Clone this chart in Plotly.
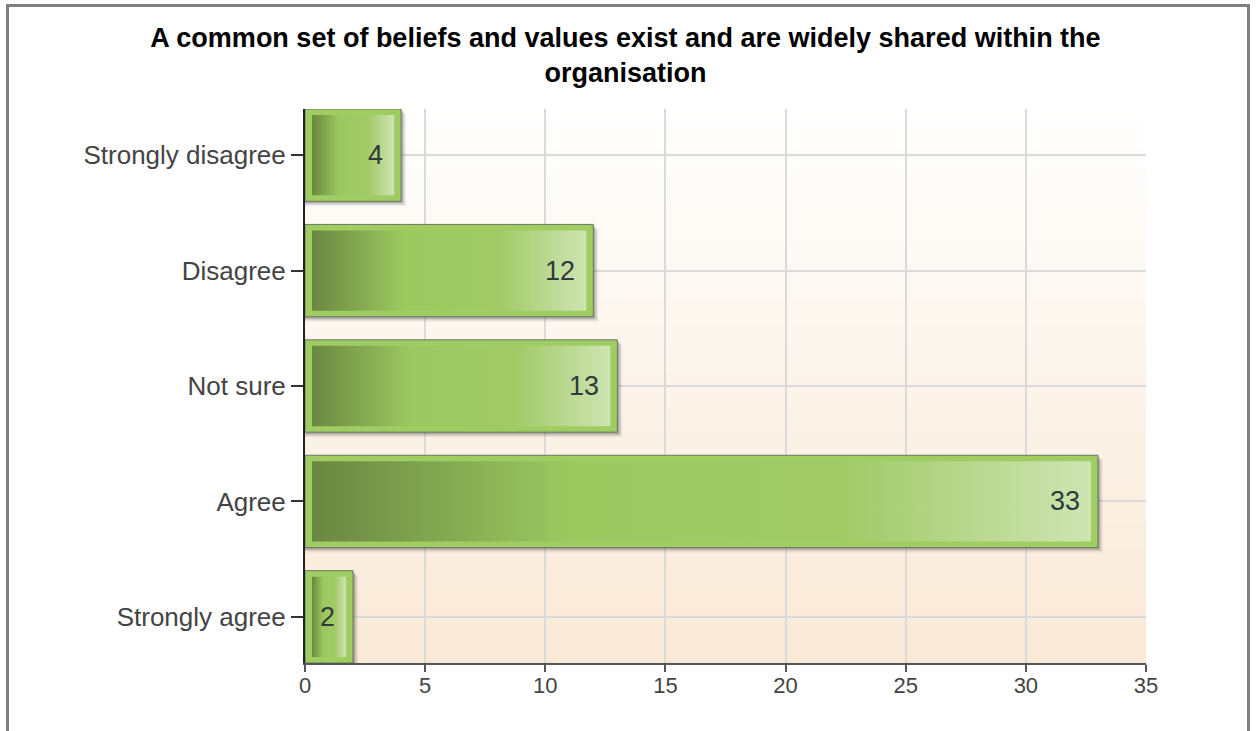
import base64
import struct
import zlib

import plotly.graph_objects as go

# ---------------- data ----------------
categories = ["Strongly disagree", "Disagree", "Not sure", "Agree", "Strongly agree"]
counts = [4, 12, 13, 33, 2]
x_ticks = [0, 5, 10, 15, 20, 25, 30, 35]
title_text = ("A common set of beliefs and values exist and are widely shared within the"
              "<br>organisation")

# ---------------- geometry / style ----------------
W, H = 1256, 731
ML, MR, MT, MB = 305, 110, 109, 68
PW, PH = W - ML - MR, H - MT - MB
XMAX = 35
Y_RANGE = [len(categories) - 0.6, -0.4]       # reversed: first category on top
PX_X = PW / XMAX                                 # pixels per x unit
PX_Y = PH / abs(Y_RANGE[0] - Y_RANGE[1])        # pixels per y unit
BAR_W = 0.8
FONT = "Liberation Sans, Arial, sans-serif"

ypos = list(range(len(categories)))


def gradient_png(top, bottom, h=128):
    rows = b""
    for i in range(h):
        t = i / (h - 1)
        px = bytes(round(a + (b - a) * t) for a, b in zip(top, bottom))
        rows += b"\x00" + px * 2
    def chunk(typ, data):
        return (struct.pack(">I", len(data)) + typ + data
                + struct.pack(">I", zlib.crc32(typ + data) & 0xFFFFFFFF))
    png = (b"\x89PNG\r\n\x1a\n"
           + chunk(b"IHDR", struct.pack(">IIBBBBB", 2, h, 8, 2, 0, 0, 0))
           + chunk(b"IDAT", zlib.compress(rows))
           + chunk(b"IEND", b""))
    return "data:image/png;base64," + base64.b64encode(png).decode()


fig = go.Figure()

# soft drop shadow (offset right/down)
for off_px, alpha in [(5, 0.07), (3.5, 0.12), (2, 0.22)]:
    fig.add_trace(go.Bar(
        orientation="h", y=ypos, x=[c + off_px / PX_X for c in counts], base=0,
        width=BAR_W, offset=-BAR_W / 2 + off_px / PX_Y,
        marker=dict(color=f"rgba(40,40,40,{alpha})", line=dict(width=0)),
        hoverinfo="skip", showlegend=False))

# outer (light green) bar frame
fig.add_trace(go.Bar(
    orientation="h", y=ypos, x=counts, width=BAR_W, offset=-BAR_W / 2,
    marker=dict(color="#9fcd61", line=dict(color="#6b7561", width=1)),
    showlegend=False, hovertemplate="%{x}<extra></extra>"))

# inner gradient panel of each bar
inset_x = 7 / PX_X
inset_y = 6 / PX_Y
grad = [[0.0, "#6a8741"], [0.33, "#9cc860"], [0.68, "#a1ca67"], [1.0, "#cee4b2"]]
for yi, c in zip(ypos, counts):
    x0, x1 = inset_x, c - inset_x
    y0, y1 = yi - BAR_W / 2 + inset_y, yi + BAR_W / 2 - inset_y
    fig.add_trace(go.Scatter(
        x=[x0, x1, x1, x0, x0], y=[y0, y0, y1, y1, y0], mode="lines",
        line=dict(width=0), fill="toself",
        fillgradient=dict(type="horizontal", colorscale=grad),
        hoverinfo="skip", showlegend=False))

# value labels
for yi, c in zip(ypos, counts):
    fig.add_annotation(x=c, y=yi, xref="x", yref="y", text=str(c), showarrow=False,
                       xanchor="right", yanchor="middle", xshift=-16,
                       font=dict(family=FONT, size=27, color="#2f3a3a"))

# background gradient of plot area
fig.add_layout_image(dict(
    source=gradient_png((255, 255, 255), (249, 233, 214)),
    xref="x domain", yref="y domain", x=0, y=1, sizex=1, sizey=1,
    xanchor="left", yanchor="top", sizing="stretch", layer="below"))

# outer grey frame
fig.add_shape(type="rect", xref="paper", yref="paper",
              x0=(7.5 - ML) / PW, x1=(1248.5 - ML) / PW,
              y0=(MT + PH - 745) / PH, y1=(MT + PH - 5.5) / PH,
              line=dict(color="#808080", width=3), fillcolor="rgba(0,0,0,0)")

fig.update_layout(
    width=W, height=H,
    margin=dict(l=ML, r=MR, t=MT, b=MB, pad=0),
    paper_bgcolor="white", plot_bgcolor="rgba(0,0,0,0)",
    barmode="overlay",
    title=dict(text=title_text, x=625.5 / W, xanchor="center", xref="container",
               y=1 - 47 / H, yanchor="top", yref="container",
               font=dict(family=FONT, size=27, color="#000000", weight="bold")),
    font=dict(family=FONT),
    showlegend=False,
)
fig.update_xaxes(
    range=[0, XMAX], tickvals=x_ticks, ticktext=[str(t) for t in x_ticks],
    showgrid=True, gridcolor="#dadada", gridwidth=2,
    showline=True, linecolor="#555555", linewidth=2,
    ticks="outside", ticklen=7, tickwidth=2, tickcolor="#555555",
    ticklabelstandoff=-5,
    tickfont=dict(family=FONT, size=22, color="#444444"),
    zeroline=False, fixedrange=True)
fig.update_yaxes(
    range=Y_RANGE, tickvals=ypos, ticktext=categories,
    showgrid=True, gridcolor="#dadada", gridwidth=2,
    showline=True, linecolor="#222222", linewidth=2,
    ticks="outside", ticklen=12, tickwidth=2, tickcolor="#333333",
    tickfont=dict(family=FONT, size=26, color="#444444"),
    zeroline=False, fixedrange=True)

fig.write_html("out.html", config={"displayModeBar": False},
               post_script="document.body.style.margin='0';document.body.style.overflow='hidden';")
